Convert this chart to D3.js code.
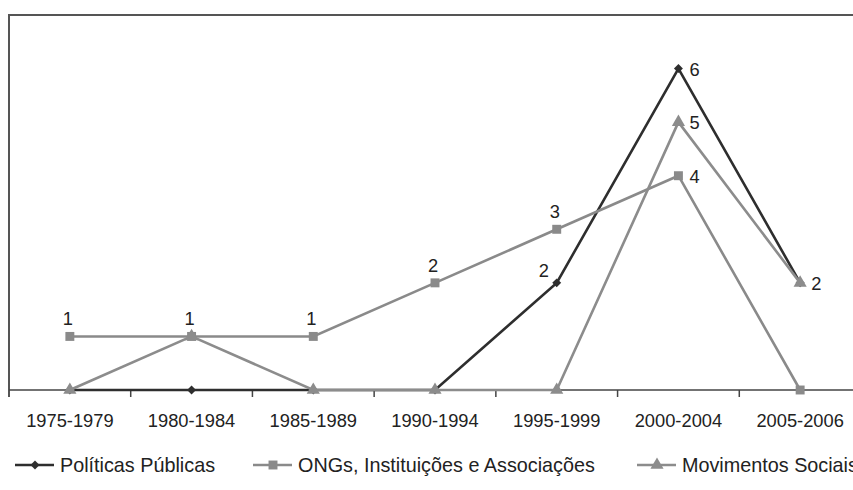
<!DOCTYPE html>
<html>
<head>
<meta charset="utf-8">
<script src="https://cdn.jsdelivr.net/npm/d3@7"></script>
<style>
  body { margin: 0; background: #fff; overflow: hidden; }
  text { font-family: "Liberation Sans", Arial, sans-serif; fill: #222; }
</style>
</head>
<body>
<script>
// periods on the x axis
var categories = ["1975-1979", "1980-1984", "1985-1989", "1990-1994", "1995-1999", "2000-2004", "2005-2006"];

// values per series
var politicas   = [0, 0, 0, 0, 2, 6, 2];
var ongs        = [1, 1, 1, 2, 3, 4, 0];
var movimentos  = [0, 1, 0, 0, 0, 5, 2];

var seriesNames = ["Políticas Públicas", "ONGs, Instituições e Associações", "Movimentos Sociais"];

// where the data label sits for each point (null = no label)
var politicasLabels  = [null, null, null, null, "left", "right", null];
var ongsLabels       = ["above", "above", "above", "above", "above", "right", null];
var movimentosLabels = [null, null, null, null, null, "right", "right"];

var width = 853, height = 490;
var plotLeft = 9, plotTop = 15, plotBottom = 390, plotRight = 861;

var svg = d3.select("body").append("svg")
    .attr("width", width)
    .attr("height", height);

var x = d3.scaleBand().domain(categories).range([plotLeft, plotRight]);
var y = d3.scaleLinear().domain([0, 7]).range([plotBottom, plotTop]);

function cx(c) { return x(c) + x.bandwidth() / 2; }

// frame: top and left border
svg.append("line").attr("x1", plotLeft - 1).attr("x2", width).attr("y1", plotTop).attr("y2", plotTop)
    .attr("stroke", "#555").attr("stroke-width", 2);
svg.append("line").attr("x1", plotLeft).attr("x2", plotLeft).attr("y1", plotTop).attr("y2", plotBottom + 7)
    .attr("stroke", "#555").attr("stroke-width", 2);

// x axis with ticks between bands
var axis = svg.append("g").attr("transform", "translate(0," + plotBottom + ")");
axis.append("line").attr("x1", plotLeft).attr("x2", width).attr("stroke", "#444").attr("stroke-width", 1.5);
axis.selectAll(".tk").data(categories.slice(1)).enter().append("line")
    .attr("x1", function(d) { return x(d); })
    .attr("x2", function(d) { return x(d); })
    .attr("y1", 0).attr("y2", 7)
    .attr("stroke", "#444").attr("stroke-width", 1.5);
axis.selectAll(".lbl").data(categories).enter().append("text")
    .attr("x", cx)
    .attr("y", 37)
    .attr("text-anchor", "middle")
    .style("font-size", "18.3px")
    .text(function(d) { return d; });

var series = [
  { name: seriesNames[0], values: politicas,  labels: politicasLabels,  color: "#2e2e2e", marker: d3.symbolSquare,   size: 40, rot: 45 },
  { name: seriesNames[1], values: ongs,       labels: ongsLabels,       color: "#8a8a8a", marker: d3.symbolSquare,   size: 80, rot: 0 },
  { name: seriesNames[2], values: movimentos, labels: movimentosLabels, color: "#8c8c8c", marker: d3.symbolTriangle, size: 75, rot: 0 }
];

var line = d3.line()
    .x(function(d, i) { return cx(categories[i]); })
    .y(function(d) { return y(d); });

series.forEach(function(s) {
  var g = svg.append("g");
  g.append("path")
      .attr("d", line(s.values))
      .attr("fill", "none")
      .attr("stroke", s.color)
      .attr("stroke-width", 2.6);

  g.selectAll(".pt").data(s.values).enter().append("path")
      .attr("transform", function(d, i) {
        return "translate(" + cx(categories[i]) + "," + y(d) + ") rotate(" + s.rot + ")";
      })
      .attr("d", d3.symbol().type(s.marker).size(s.size))
      .attr("fill", s.color);

  var pts = s.values.map(function(v, i) { return { v: v, c: categories[i], pos: s.labels[i] }; })
      .filter(function(p) { return p.pos; });

  g.selectAll(".dl").data(pts).enter().append("text")
      .attr("x", function(p) {
        var px = cx(p.c);
        return p.pos === "right" ? px + 11 : p.pos === "left" ? px - 13 : px - 2;
      })
      .attr("y", function(p) {
        var py = y(p.v);
        return p.pos === "right" ? py + 7 : p.pos === "left" ? py - 6 : py - 11;
      })
      .attr("text-anchor", function(p) { return p.pos === "right" ? "start" : "middle"; })
      .style("font-size", "18.3px")
      .text(function(p) { return p.v; });
});

// legend
var legendX = [15, 253, 637];
var legend = svg.selectAll(".leg").data(series).enter().append("g")
    .attr("transform", function(d, i) { return "translate(" + legendX[i] + ",465)"; });
legend.append("line").attr("x1", 0).attr("x2", 39)
    .attr("stroke", function(d) { return d.color; }).attr("stroke-width", 2.6);
legend.append("path")
    .attr("transform", function(d) { return "translate(20,0) rotate(" + d.rot + ")"; })
    .attr("d", function(d) { return d3.symbol().type(d.marker).size(d.size)(); })
    .attr("fill", function(d) { return d.color; });
legend.append("text")
    .attr("x", 45)
    .attr("y", 7)
    .style("font-size", "19.8px")
    .text(function(d) { return d.name; });
</script>
</body>
</html>
